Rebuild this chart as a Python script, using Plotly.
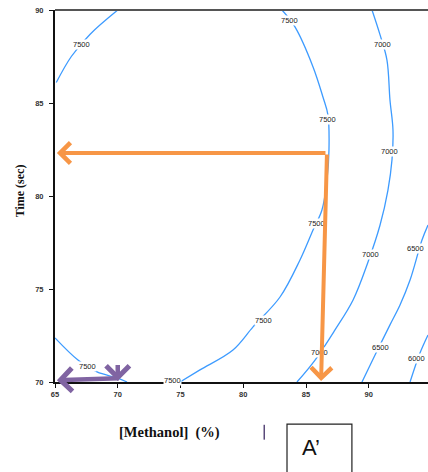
import plotly.graph_objects as go

# ---- data ----
x_ticks = [65, 70, 75, 80, 85, 90]
y_ticks = [70, 75, 80, 85, 90]

# contour lines (x = [Methanol] %, y = Time sec)
c7500_top_x = [65.1, 66.3, 67.8, 70.0]
c7500_top_y = [86.1, 87.5, 88.7, 90.0]

c7500_arc_x = [83.09, 84.12, 85.56, 86.35, 86.75, 86.83, 86.67, 86.27, 85.56, 84.52, 82.93, 80.78, 79.18, 76.55, 74.96]
c7500_arc_y = [90.0, 89.09, 86.94, 85.32, 84.35, 82.47, 80.86, 79.25, 78.17, 76.56, 74.57, 72.96, 71.72, 70.65, 70.0]

c7500_low_x = [65.0, 66.83, 68.35, 69.94, 70.74]
c7500_low_y = [72.37, 71.18, 70.54, 70.22, 70.0]

c7000_x = [90.26, 90.90, 91.45, 91.69, 91.93, 91.85, 91.53, 90.90, 89.94, 88.75, 87.31, 85.72, 84.28]
c7000_y = [90.0, 88.66, 87.31, 85.16, 83.55, 81.94, 80.32, 78.44, 76.45, 74.41, 72.80, 71.18, 70.0]

c6500_x = [94.72, 94.24, 93.29, 92.49, 91.69, 90.50, 89.46]
c6500_y = [78.44, 77.63, 75.48, 74.14, 73.07, 71.45, 70.0]

c6000_x = [94.72, 94.08, 93.29]
c6000_y = [72.53, 71.56, 70.0]

contours = [
    (c7500_top_x, c7500_top_y),
    (c7500_arc_x, c7500_arc_y),
    (c7500_low_x, c7500_low_y),
    (c7000_x, c7000_y),
    (c6500_x, c6500_y),
    (c6000_x, c6000_y),
]

label_text = ["7500", "7500", "7500", "7500", "7500", "7500", "7500",
              "7000", "7000", "7000", "7000", "6500", "6500", "6000"]
label_x = [67.15, 83.7, 86.75, 85.8, 81.6, 74.4, 67.55,
           91.13, 91.69, 90.10, 86.11, 93.7, 90.90, 93.8]
label_y = [88.12, 89.46, 84.1, 78.5, 73.3, 70.1, 70.81,
           88.12, 82.37, 76.83, 71.61, 77.2, 71.88, 71.24]

# arrows (tail -> tip)
orange_h = dict(tail=(86.67, 82.31), tip=(65.15, 82.31))
orange_v = dict(tail=(86.67, 82.31), tip=(86.2, 70.05))
purple_h = dict(tail=(70.2, 70.2), tip=(65.15, 70.1))
purple_v = dict(tail=(70.0, 71.0), tip=(70.0, 70.05))

fig = go.Figure()
for cx, cy in contours:
    fig.add_trace(go.Scatter(x=cx, y=cy, mode="lines",
                             line=dict(color="#3d9bff", width=1.3, shape="spline"),
                             hoverinfo="skip", showlegend=False, cliponaxis=True))

annotations = []
for t, lx, ly in zip(label_text, label_x, label_y):
    annotations.append(dict(x=lx, y=ly, xref="x", yref="y", text=t, showarrow=False,
                            xanchor="center", yanchor="middle",
                            font=dict(family="Liberation Sans", size=7.5, color="#222"),
                            bgcolor="white", borderpad=0))

def arrow(a, color, width, size=1.0):
    return dict(x=a["tip"][0], y=a["tip"][1], ax=a["tail"][0], ay=a["tail"][1],
                xref="x", yref="y", axref="x", ayref="y", text="", showarrow=True,
                arrowhead=4, arrowwidth=width, arrowsize=size, arrowcolor=color)

annotations += [
    arrow(orange_h, "#f79646", 4),
    arrow(orange_v, "#f79646", 4),
    arrow(purple_h, "#8064a2", 4.5),
    arrow(purple_v, "#8064a2", 4.5),
    dict(x=-0.094, y=0.515, xref="paper", yref="paper", text="<b>Time (sec)</b>",
         textangle=-90, showarrow=False, xanchor="center", yanchor="middle",
         font=dict(family="Liberation Serif", size=12, color="#111")),
    dict(x=0.308, y=-0.137, xref="paper", yref="paper", text="<b>[Methanol]  (%)</b>",
         showarrow=False, xanchor="center", yanchor="middle",
         font=dict(family="Liberation Serif", size=14.5, color="#111")),
    dict(x=0.685, y=-0.175, xref="paper", yref="paper", text="A’",
         showarrow=False, xanchor="center", yanchor="middle",
         font=dict(family="Liberation Sans", size=22, color="#111")),
]

shapes = [
    dict(type="line", xref="paper", yref="paper", x0=0, x1=1, y0=1, y1=1,
         line=dict(color="#555", width=2)),
    dict(type="rect", xref="paper", yref="paper", x0=0.622, x1=0.796, y0=-0.27, y1=-0.113,
         line=dict(color="#222", width=1.2)),
    dict(type="line", xref="paper", yref="paper", x0=0.561, x1=0.561, y0=-0.115, y1=-0.155,
         line=dict(color="#5a4a7a", width=1.5)),
]

fig.update_layout(
    width=428, height=472,
    margin=dict(l=55, r=0, t=10, b=90, autoexpand=False),
    paper_bgcolor="white", plot_bgcolor="white",
    annotations=annotations, shapes=shapes,
    xaxis=dict(range=[65, 94.72], tickvals=x_ticks, ticktext=[str(v) for v in x_ticks],
               automargin=False,
               showgrid=False, zeroline=False, showline=True, linecolor="#111", linewidth=2,
               ticks="outside", ticklen=4, tickwidth=1, tickcolor="#111",
               tickfont=dict(family="Liberation Sans", size=7.5, color="#333", weight="bold")),
    yaxis=dict(range=[70, 90], tickvals=y_ticks, ticktext=[str(v) for v in y_ticks],
               automargin=False, ticklabelstandoff=4,
               showgrid=False, zeroline=False, showline=True, linecolor="#111", linewidth=2,
               ticks="outside", ticklen=4, tickwidth=1, tickcolor="#111",
               tickfont=dict(family="Liberation Sans", size=7.5, color="#333", weight="bold")),
)

fig.write_html("out.html", config={"displayModeBar": False},
               post_script="document.body.style.margin='0';document.body.style.overflow='hidden';")
